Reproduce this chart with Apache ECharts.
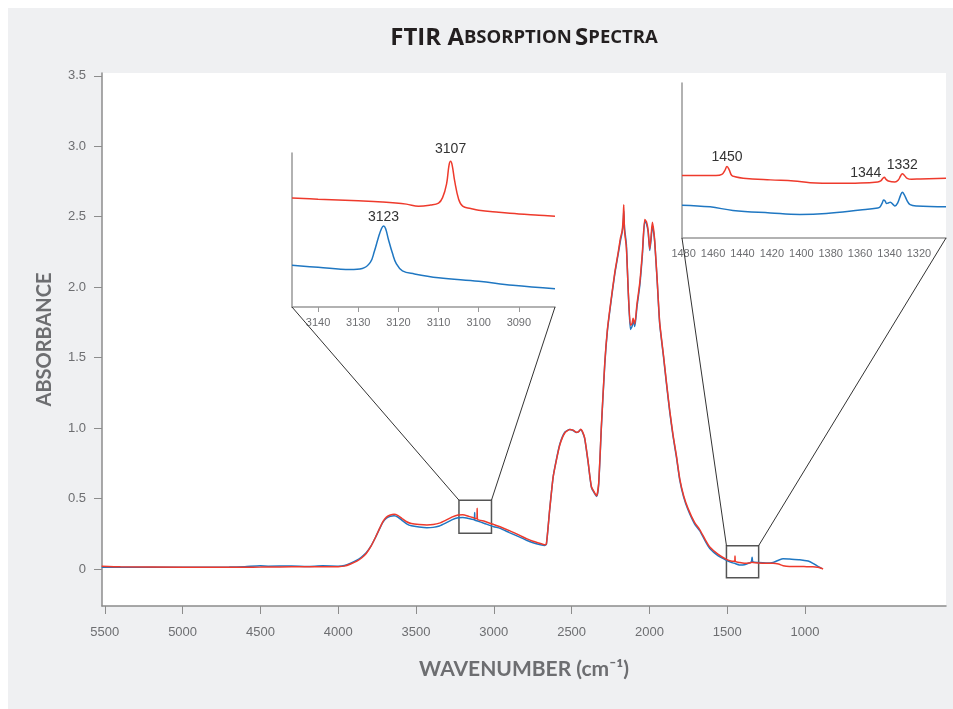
<!DOCTYPE html>
<html>
<head>
<meta charset="utf-8">
<script src="https://cdn.jsdelivr.net/npm/echarts@6/dist/echarts.min.js"></script>
<style>html,body{margin:0;padding:0;background:#fff}#main{width:953px;height:709px}</style>
</head>
<body>
<div id="main"></div>
<script>
// ---------- main spectrum (wavenumber, cm-1) ----------
const mainWave = [5520,5400,5000,4700,4600,4500,4450,4300,4200,4100,4000,3960,3920,3880,3850,3820,3790,3760,3733,3712,3690,3665,3641,3615,3590,3560,3530,3480,3430,3390,3350,3310,3270,3230,3200,3160,3130,3125,3123,3121,3109,3107,3105,3060,3000,2960,2900,2833,2790,2748,2700,2673,2662,2641,2619,2600,2576,2544,2512,2490,2469,2455,2441,2430,2416,2395,2373,2352,2339,2326,2308,2287,2270,2250,2223,2200,2186,2175,2168,2165,2160,2148,2135,2122,2112,2105,2094,2080,2062,2045,2030,2019,2008,1998,1990,1981,1972,1966,1950,1934,1910,1891,1870,1848,1826,1805,1780,1752,1710,1676,1640,1612,1560,1505,1470,1452,1450,1448,1419,1390,1360,1345,1340,1335,1300,1250,1205,1170,1141,1100,1034,980,949,920,895,884];
const mainRed = [0.020,0.015,0.012,0.012,0.012,0.013,0.014,0.015,0.015,0.015,0.016,0.020,0.035,0.055,0.078,0.110,0.160,0.225,0.290,0.338,0.368,0.383,0.388,0.378,0.358,0.335,0.322,0.315,0.312,0.315,0.325,0.345,0.368,0.383,0.384,0.373,0.363,0.361,0.360,0.359,0.356,0.430,0.354,0.338,0.315,0.300,0.272,0.238,0.215,0.196,0.180,0.172,0.178,0.420,0.650,0.760,0.880,0.965,0.990,0.985,0.970,0.975,0.992,0.975,0.930,0.770,0.585,0.540,0.520,0.610,1.030,1.460,1.700,1.880,2.100,2.250,2.350,2.400,2.500,2.585,2.400,2.280,1.950,1.730,1.740,1.780,1.740,1.880,2.030,2.250,2.480,2.465,2.400,2.270,2.350,2.460,2.400,2.330,2.050,1.750,1.520,1.330,1.130,0.950,0.800,0.640,0.520,0.430,0.330,0.278,0.205,0.155,0.105,0.068,0.055,0.054,0.092,0.054,0.045,0.040,0.042,0.046,0.048,0.046,0.042,0.040,0.040,0.035,0.023,0.018,0.018,0.015,0.015,0.012,0.005,0.000];
const mainBlue = [0.012,0.012,0.012,0.013,0.016,0.022,0.020,0.021,0.018,0.022,0.020,0.024,0.040,0.062,0.085,0.115,0.162,0.225,0.288,0.332,0.360,0.374,0.377,0.367,0.345,0.320,0.306,0.297,0.292,0.295,0.305,0.325,0.348,0.363,0.365,0.358,0.350,0.348,0.400,0.345,0.342,0.341,0.340,0.323,0.300,0.288,0.258,0.226,0.204,0.186,0.172,0.167,0.176,0.420,0.650,0.765,0.885,0.970,0.990,0.983,0.968,0.975,0.990,0.970,0.925,0.765,0.580,0.535,0.515,0.600,1.020,1.450,1.690,1.870,2.090,2.240,2.330,2.390,2.460,2.540,2.420,2.300,1.940,1.700,1.720,1.760,1.720,1.860,2.010,2.230,2.470,2.450,2.390,2.260,2.330,2.440,2.380,2.320,2.040,1.740,1.510,1.320,1.120,0.940,0.790,0.630,0.510,0.420,0.320,0.270,0.195,0.145,0.095,0.062,0.045,0.040,0.040,0.039,0.028,0.030,0.042,0.050,0.083,0.050,0.045,0.042,0.046,0.062,0.072,0.070,0.066,0.056,0.040,0.020,0.005,null];
const xTicks = [5500,5000,4500,4000,3500,3000,2500,2000,1500,1000];
const yTicks = [0,0.5,1.0,1.5,2.0,2.5,3.0,3.5];

// ---------- inset 1 (C-H region, offset units) ----------
const inset1RedWave = [3146.5,3140,3130,3124,3118,3115,3112,3110,3109,3108,3107.4,3107,3106.6,3106,3105,3104,3102,3100,3095,3090,3085,3081];
const inset1Red = [0.708,0.700,0.690,0.682,0.668,0.654,0.662,0.675,0.710,0.800,0.920,0.946,0.920,0.820,0.700,0.655,0.640,0.628,0.615,0.604,0.596,0.589];
const inset1BlueWave = [3146.5,3140,3132,3129,3127,3126,3125,3124.2,3123.7,3123.2,3122.5,3121.5,3120.5,3119,3116,3110,3100,3091.5,3081];
const inset1Blue = [0.271,0.258,0.243,0.250,0.290,0.360,0.450,0.510,0.526,0.510,0.440,0.350,0.280,0.235,0.215,0.190,0.167,0.141,0.119];
const inset1Ticks = [3140,3130,3120,3110,3100,3090];

// ---------- inset 2 (1480-1300 region, offset units) ----------
const inset2RedWave = [1481.1,1470,1458,1454,1452,1450.5,1449,1447.4,1445,1439.5,1421,1405,1394,1376,1360,1348,1346,1344.5,1343.5,1342.5,1340.8,1336.3,1334,1332.5,1331.3,1330,1328,1325,1319,1301.6];
const inset2Red = [0.403,0.403,0.403,0.410,0.435,0.461,0.440,0.405,0.395,0.386,0.375,0.368,0.357,0.353,0.355,0.362,0.368,0.385,0.392,0.380,0.368,0.362,0.375,0.400,0.414,0.405,0.385,0.379,0.381,0.386];
const inset2BlueWave = [1481.1,1462,1446.5,1421,1401,1383,1360,1348,1346.5,1345,1344,1343,1342,1340.5,1339.5,1337.5,1336.3,1334.5,1332.5,1331.3,1330,1328,1326,1321.5,1301.6];
const inset2Blue = [0.212,0.201,0.178,0.162,0.152,0.158,0.180,0.193,0.200,0.225,0.245,0.238,0.223,0.228,0.230,0.215,0.206,0.225,0.275,0.295,0.280,0.240,0.215,0.206,0.201];
const inset2Ticks = [1480,1460,1440,1420,1400,1380,1360,1340,1320];

// ---------- annotations ----------
const peakLabels1 = [ {series:'red', wn:3107, v:0.946, text:'3107'}, {series:'blue', wn:3123.7, v:0.526, text:'3123'} ];
const peakLabels2 = [ {series:'red', wn:1450.5, v:0.461, text:'1450'}, {series:'red', wn:1343.5, v:0.392, text:'1344'}, {series:'red', wn:1331.3, v:0.414, text:'1332'} ];
const box1 = [3224, 3015, 0.2535, 0.488];   // x1, x2, y1, y2 (data units)
const box2 = [1505, 1298, -0.062, 0.1655];
const inset1X = [3146.5, 3081], inset2X = [1481.1, 1301.6], insetY = [0, 1];

const RED = '#ee3a2c', BLUE = '#1f77c2', GRAY = '#6d6e71', AXIS = '#8c8c8c';
const zip = (xs, ys) => xs.map((x, i) => [x, ys[i]]);

function peakPoints(list, who) {
  return list.filter(p => p.series === who).map(p => {
    const lbl = {show:true, formatter:p.text, color:'#333', fontSize:14, fontFamily:'Liberation Sans'};
    if (p.text === '1344') { lbl.position = 'left'; lbl.distance = 3; lbl.offset = [0,-4]; }
    else { lbl.position = 'top'; lbl.distance = (p.text === '3107') ? 5 : 2; }
    return {coord:[p.wn, p.v], label: lbl};
  });
}

const insetXAxis = (idx, range, ticks, showTicks, margin) => ({
  gridIndex: idx, type:'value', inverse:true, min: Math.min(range[0], range[1]), max: Math.max(range[0], range[1]),
  axisLine:{show:true, lineStyle:{color:'#999', width:1.5}},
  axisTick:{show:showTicks, customValues: ticks, length:5, lineStyle:{color:'#999'}},
  axisLabel:{show:true, customValues: ticks, color: GRAY, fontSize:11, fontFamily:'Liberation Sans', margin: margin,
    formatter: v => String(v)},
  splitLine:{show:false}
});
const insetYAxis = (idx) => ({
  gridIndex: idx, type:'value', min: insetY[0], max: insetY[1],
  axisLine:{show:true, lineStyle:{color:'#999', width:1.5}},
  axisTick:{show:false}, axisLabel:{show:false}, splitLine:{show:false}
});
const lineSeries = (name, xi, data, color, extra) => Object.assign({
  type:'line', name, xAxisIndex: xi, yAxisIndex: xi, data, showSymbol:false, symbol:'none',
  smooth: 0.2, lineStyle:{color, width:1.5}, itemStyle:{color}, animation:false, silent:true
}, extra || {});

const baseGraphic = [
  {id:'panel', type:'rect', z:-100, shape:{x:8, y:8, width:945, height:701}, style:{fill:'#eff0f2'}, silent:true},
  {id:'title', type:'text', x:524, y:38, style:{
    text:'{a|FTIR A}{b|BSORPTION} {a|S}{b|PECTRA}', align:'center', verticalAlign:'middle',
    rich:{a:{fontSize:24, fontWeight:'bold', fontFamily:'Open Sans', fill:'#231f20'},
          b:{fontSize:18.5, fontWeight:'bold', fontFamily:'Open Sans', fill:'#231f20'}}}}
];

const option = {
  backgroundColor:'#fff',
  animation:false,
  graphic: baseGraphic,
  grid:[
    {left:102, right:7, top:73, bottom:103, show:true, backgroundColor:'#fff', borderWidth:0, z:0},
    {left:292, top:153, width:263, height:154},
    {left:682, top:83, width:264, height:155}
  ],
  xAxis:[
    {gridIndex:0, type:'value', inverse:true, min:94, max:5518,
     name:'WAVENUMBER (cm⁻¹)', nameLocation:'middle', nameGap:53,
     nameTextStyle:{fontSize:21, fontWeight:'bold', fontFamily:'Lato', color:GRAY},
     axisLine:{show:true, onZero:false, lineStyle:{color:AXIS, width:1.5}},
     axisTick:{show:true, customValues:xTicks, length:8, lineStyle:{color:AXIS}},
     axisLabel:{customValues:xTicks, color:GRAY, fontSize:13, fontFamily:'Liberation Sans', margin:20,
       formatter: v => String(v)},
     splitLine:{show:false}},
    insetXAxis(1, inset1X, inset1Ticks, true, 10),
    insetXAxis(2, inset2X, inset2Ticks, false, 10)
  ],
  yAxis:[
    {gridIndex:0, type:'value', min:-0.263, max:3.52,
     name:'ABSORBANCE', nameLocation:'middle', nameGap:47,
     nameTextStyle:{fontSize:20, fontWeight:'bold', fontFamily:'Lato', color:GRAY},
     axisLine:{show:true, onZero:false, lineStyle:{color:AXIS, width:1.5}},
     axisTick:{show:true, customValues:yTicks, length:8, lineStyle:{color:AXIS}},
     axisLabel:{customValues:yTicks, color:GRAY, fontSize:13, fontFamily:'Liberation Sans', margin:16,
       formatter: v => (v === 0 ? '0' : v.toFixed(1))},
     splitLine:{show:false}},
    insetYAxis(1),
    insetYAxis(2)
  ],
  series:[
    lineSeries('blue', 0, zip(mainWave, mainBlue), BLUE, {
      markArea:{silent:true, itemStyle:{color:'rgba(0,0,0,0)', borderColor:'#555', borderWidth:1.5},
        data:[[{coord:[box1[0], box1[3]]},{coord:[box1[1], box1[2]]}],
              [{coord:[box2[0], box2[3]]},{coord:[box2[1], box2[2]]}]]}
    }),
    lineSeries('red', 0, zip(mainWave, mainRed), RED),
    lineSeries('red1', 1, zip(inset1RedWave, inset1Red), RED, {smooth:0.4,
      markPoint:{symbol:'circle', symbolSize:0, silent:true, data: peakPoints(peakLabels1,'red')}}),
    lineSeries('blue1', 1, zip(inset1BlueWave, inset1Blue), BLUE, {smooth:0.4,
      markPoint:{symbol:'circle', symbolSize:0, silent:true, data: peakPoints(peakLabels1,'blue')}}),
    lineSeries('red2', 2, zip(inset2RedWave, inset2Red), RED, {smooth:0.4,
      markPoint:{symbol:'circle', symbolSize:0, silent:true, data: peakPoints(peakLabels2,'red')}}),
    lineSeries('blue2', 2, zip(inset2BlueWave, inset2Blue), BLUE, {smooth:0.4})
  ]
};

const chart = echarts.init(document.getElementById('main'));
chart.setOption(option);

// connector lines from zoom boxes to inset corners (positions derived via the axes)
const px = (idx, v) => chart.convertToPixel({xAxisIndex: idx, yAxisIndex: idx}, v);
const conns = [
  [px(0, [box1[0], box1[3]]), px(1, [inset1X[0], insetY[0]])],
  [px(0, [box1[1], box1[3]]), px(1, [inset1X[1], insetY[0]])],
  [px(0, [box2[0], box2[3]]), px(2, [inset2X[0], insetY[0]])],
  [px(0, [box2[1], box2[3]]), px(2, [inset2X[1], insetY[0]])]
];
chart.setOption({
  graphic: baseGraphic.concat(conns.map((c, i) => ({
    id:'conn' + i, type:'line', z:50, silent:true,
    shape:{x1:c[0][0], y1:c[0][1], x2:c[1][0], y2:c[1][1]},
    style:{stroke:'#333', lineWidth:1}
  })))
});
</script>
</body>
</html>
